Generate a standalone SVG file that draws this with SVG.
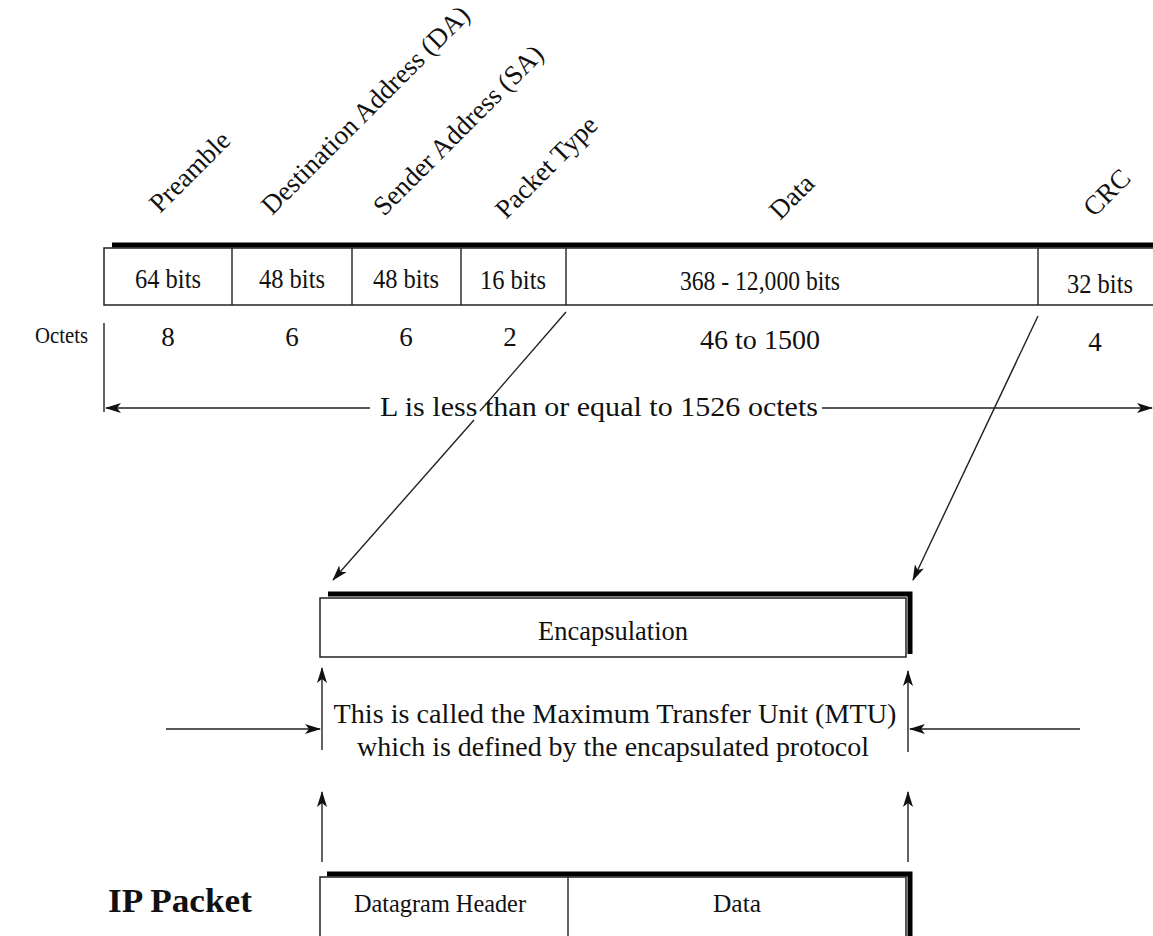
<svg xmlns="http://www.w3.org/2000/svg" width="1153" height="936" viewBox="0 0 1153 936">
<defs>
<style>
text{font-family:"Liberation Serif","Times New Roman",serif;fill:#111}
.lbl{font-size:27px}
.cell{font-size:27px;text-anchor:middle}
.frame{fill:#fff;stroke:#222;stroke-width:1.5}
.thick{fill:none;stroke:#000;stroke-width:5}
.ln{fill:none;stroke:#222;stroke-width:1.4}
.arr{fill:none;stroke:#222;stroke-width:1.4;marker-end:url(#ah)}
</style>
<marker id="ah" viewBox="0 0 16 10" refX="15" refY="5" markerWidth="16" markerHeight="10" markerUnits="userSpaceOnUse" orient="auto">
<path d="M0,0 L16,5 L0,10 L4,5 z" fill="#111"/>
</marker>
</defs>
<rect width="1153" height="936" fill="#fff"/>

<g id="field-labels">
<text class="lbl" transform="translate(160,214) rotate(-45)">Preamble</text>
<text class="lbl" transform="translate(272,216) rotate(-45)">Destination Address (DA)</text>
<text class="lbl" transform="translate(384,217) rotate(-45)">Sender Address (SA)</text>
<text class="lbl" transform="translate(506,220) rotate(-45)">Packet Type</text>
<text class="lbl" transform="translate(780,221) rotate(-45)">Data</text>
<text class="lbl" transform="translate(1094,218) rotate(-45)">CRC</text>
</g>

<g id="ethernet-frame">
<path class="thick" d="M112,245 H1153"/>
<rect class="frame" x="104" y="248" width="1060" height="57"/>
<path class="ln" d="M232,248 V305 M352,248 V305 M461,248 V305 M566,248 V305 M1038,248 V305"/>
<text class="cell" x="168" y="288" textLength="66" lengthAdjust="spacingAndGlyphs">64 bits</text>
<text class="cell" x="292" y="288" textLength="66" lengthAdjust="spacingAndGlyphs">48 bits</text>
<text class="cell" x="406" y="288" textLength="66" lengthAdjust="spacingAndGlyphs">48 bits</text>
<text class="cell" x="513" y="289" textLength="66" lengthAdjust="spacingAndGlyphs">16 bits</text>
<text class="cell" x="760" y="290" textLength="160" lengthAdjust="spacingAndGlyphs">368 - 12,000 bits</text>
<text class="cell" x="1100" y="293" textLength="66" lengthAdjust="spacingAndGlyphs">32 bits</text>
</g>

<g id="octets">
<text x="35" y="343" style="font-size:24px" textLength="53" lengthAdjust="spacingAndGlyphs">Octets</text>
<path class="ln" d="M104,323 V412"/>
<text class="cell" x="168" y="346">8</text>
<text class="cell" x="292" y="346">6</text>
<text class="cell" x="406" y="346">6</text>
<text class="cell" x="510" y="346">2</text>
<text class="cell" x="760" y="349" textLength="120" lengthAdjust="spacingAndGlyphs">46 to 1500</text>
<text class="cell" x="1095" y="351">4</text>
</g>

<g id="length">
<text x="380" y="416" style="font-size:28px" textLength="438" lengthAdjust="spacingAndGlyphs">L is less than or equal to 1526 octets</text>
</g>

<g id="encapsulation">
<path class="thick" d="M328,594 H910 V654"/>
<rect class="frame" x="320" y="598" width="586" height="59"/>
<text class="cell" x="613" y="640" style="font-size:27px" textLength="150" lengthAdjust="spacingAndGlyphs">Encapsulation</text>
</g>

<g id="mtu-text">
<text x="615" y="723" text-anchor="middle" style="font-size:28px" textLength="563" lengthAdjust="spacingAndGlyphs">This is called the Maximum Transfer Unit (MTU)</text>
<text x="613" y="756" text-anchor="middle" style="font-size:28px" textLength="512" lengthAdjust="spacingAndGlyphs">which is defined by the encapsulated protocol</text>
</g>

<g id="ip-packet">
<text x="108" y="912" style="font-size:33px;font-weight:bold" textLength="144" lengthAdjust="spacingAndGlyphs">IP Packet</text>
<path class="thick" d="M327,874 H910 V936"/>
<rect class="frame" x="320" y="877" width="586" height="60"/>
<path class="ln" d="M568,877 V937"/>
<text class="cell" x="440" y="912" style="font-size:26px" textLength="172" lengthAdjust="spacingAndGlyphs">Datagram Header</text>
<text class="cell" x="737" y="912" style="font-size:26px" textLength="48" lengthAdjust="spacingAndGlyphs">Data</text>
</g>

<g id="connectors">
<path class="arr" d="M370,408 H106"/>
<path class="arr" d="M822,408 H1152"/>
<path class="ln" d="M566,312 L480,411"/>
<path class="arr" d="M474,420 L333,580"/>
<path class="arr" d="M1038,316 L913,580"/>
<path class="arr" d="M322,750 V668"/>
<path class="arr" d="M908,752 V671"/>
<path class="arr" d="M166,729 H320"/>
<path class="arr" d="M1080,729 H910"/>
<path class="arr" d="M322,862 V792"/>
<path class="arr" d="M908,862 V792"/>
</g>
</svg>
